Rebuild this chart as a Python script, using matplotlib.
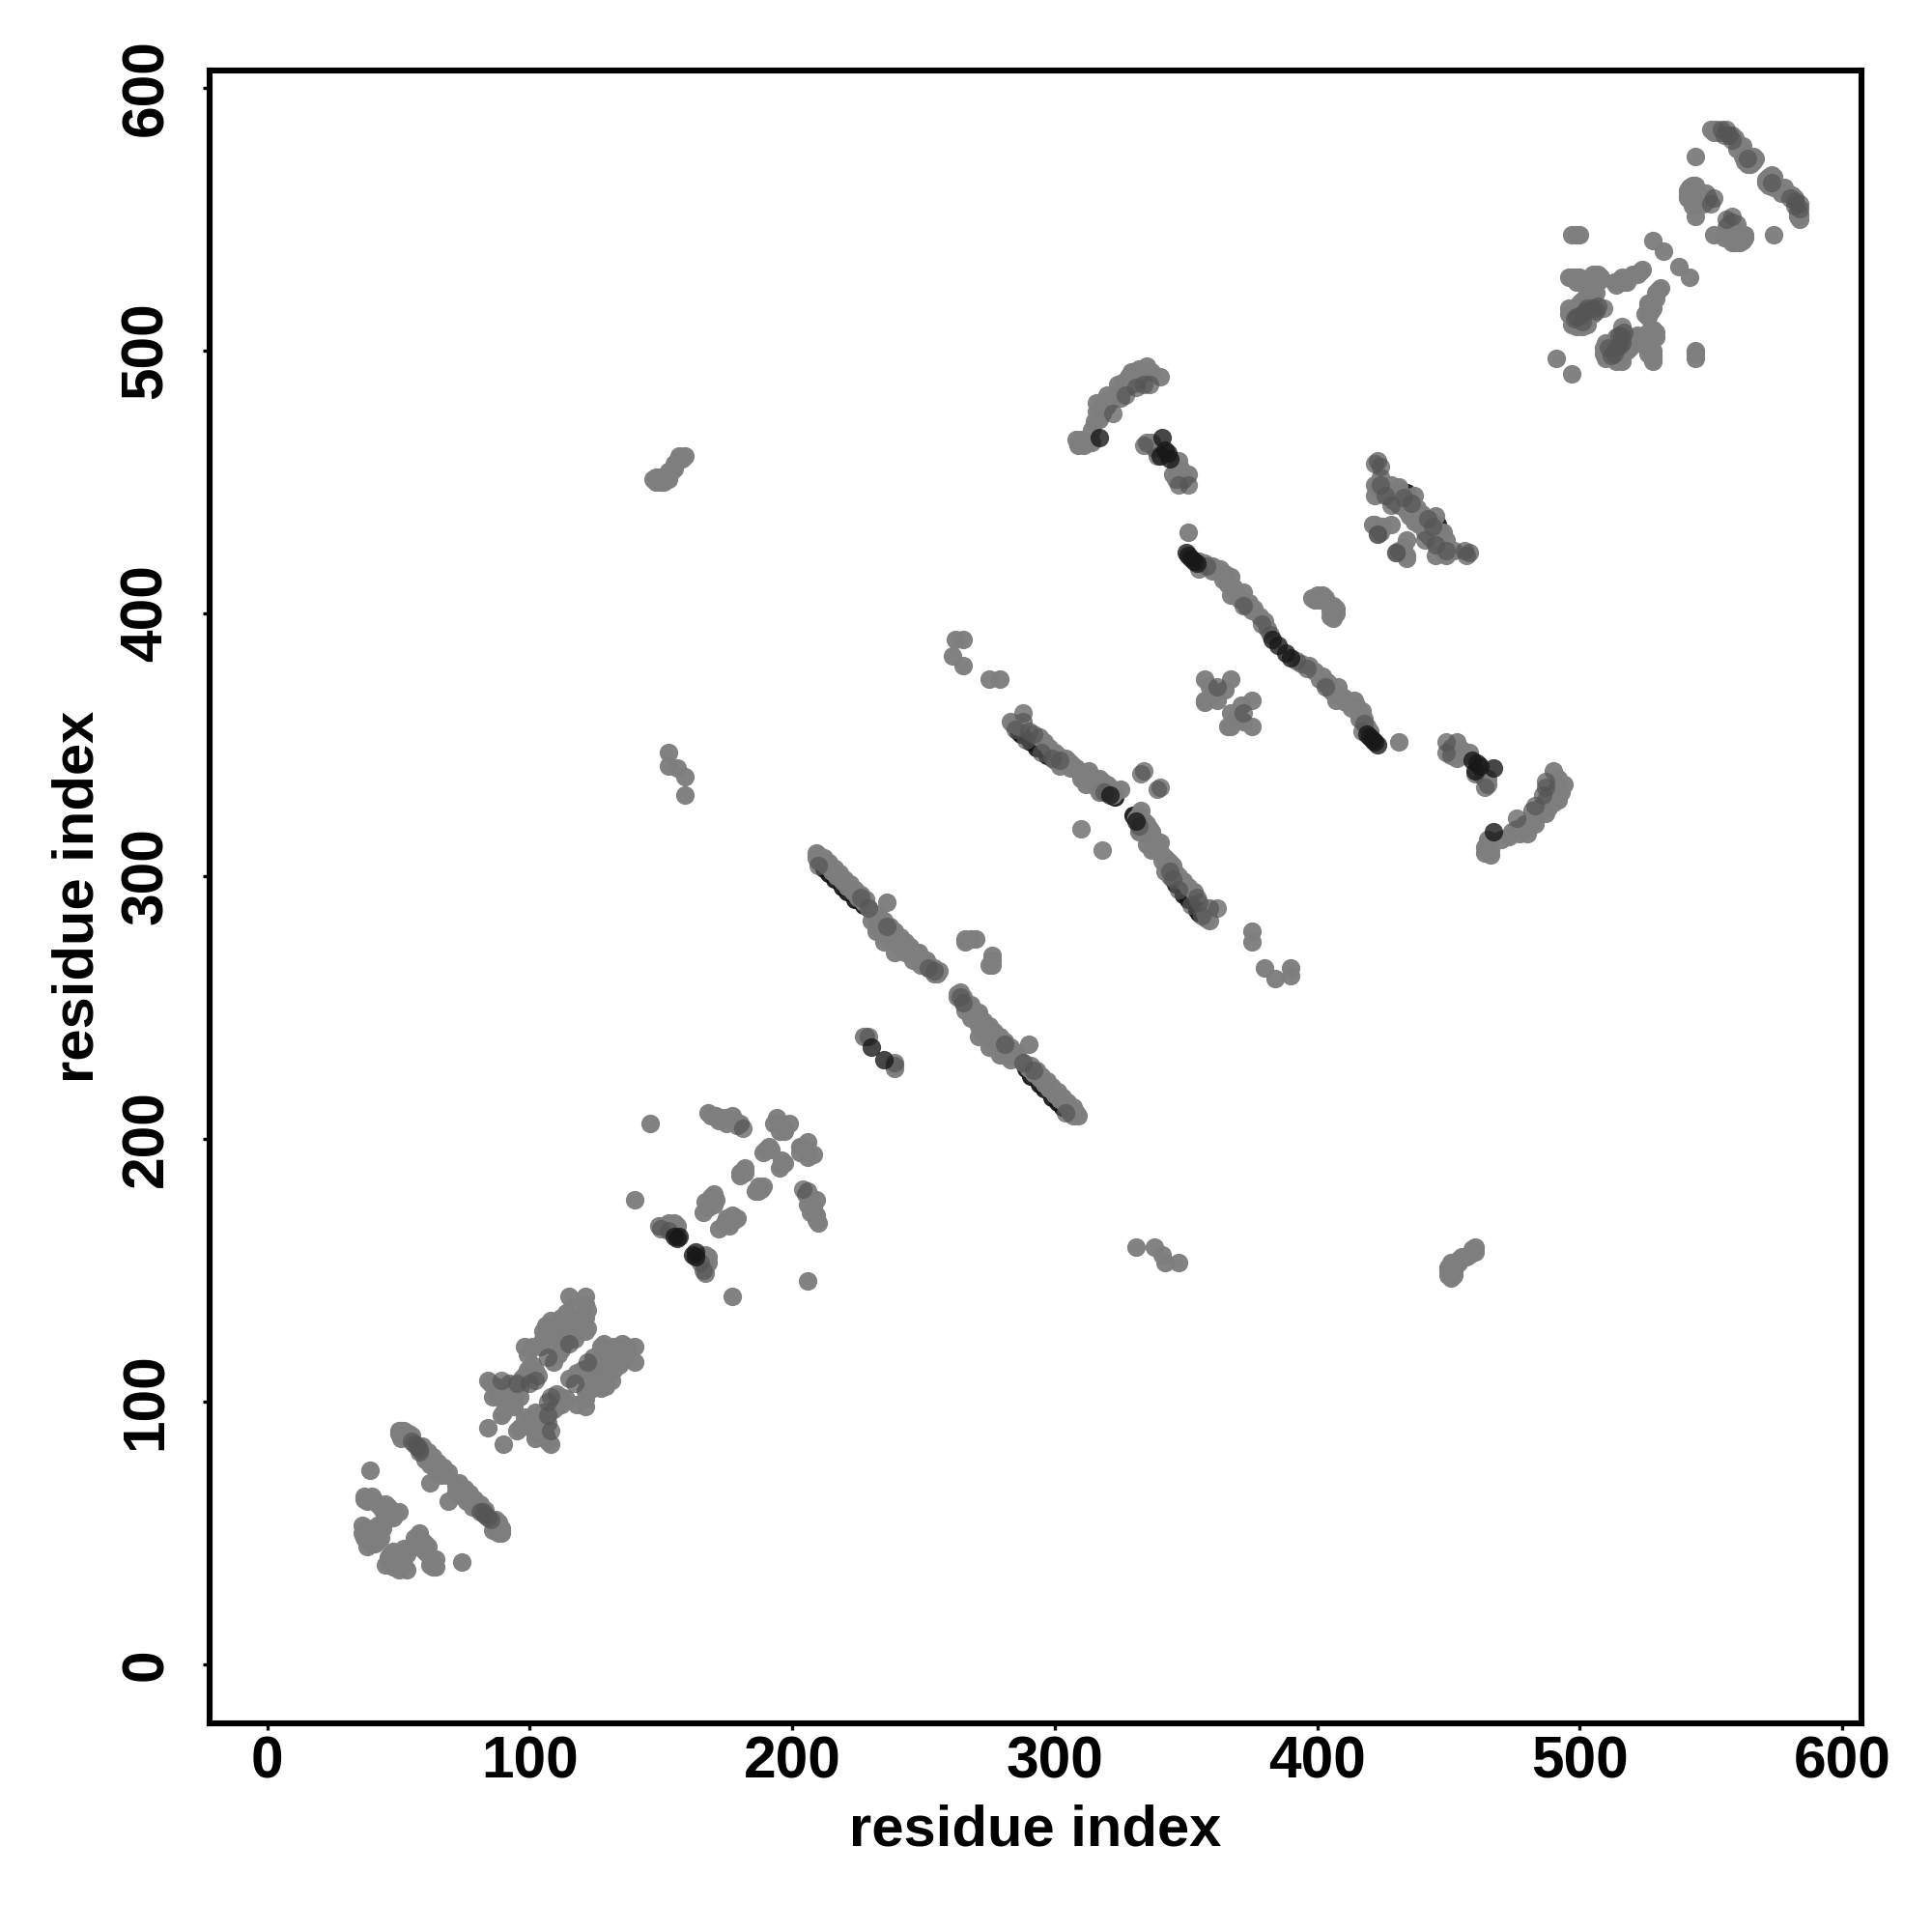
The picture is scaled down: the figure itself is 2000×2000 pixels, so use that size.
import matplotlib
matplotlib.use('Agg')
import matplotlib.pyplot as plt

# contact pairs (i, j) with i < j, the map is symmetric so each is drawn twice
under_pairs = [
    (212,303),(214,301),(216,299),(219,296),(221,294),(224,291),(227,289),(286,355),(287,354),(291,351),(293,349),
    (297,346),(317,333),(323,330),(431,447),(434,446),
]
dark_pairs = [
    (156,162),(157,163),(155,163),(230,235),(321,331),
    (341,467),(342,462),(343,461),(344,459),(340,460),(350,423),(351,422),(352,421),(353,420),(354,419),
    (383,390),(385,388),(317,467),
]
mid_pairs = [
    (55,85),(56,84),(58,82),(89,108),(95,107),(100,107),
    (115,122),(102,108),(107,117),(229,239),(181,204),(150,166),(153,165),(210,304),(226,292),(229,288),
    (236,281),(252,265),(254,264),(288,362),(289,352),(292,354),(295,347),(299,345),(302,344),
    (310,318),(319,332),(333,339),(334,340),(334,464),(334,487),(339,460),(347,449),(351,449),(355,417),(358,418),
    (372,403),(379,396),(382,392),(362,372),(331,486),(327,483),(336,487),(322,476),(422,457),(424,456),
    (423,430),(430,423),(436,442),(433,444),(428,441),(424,449),(426,445),(507,517),(509,516),(498,512),(501,514),
    (502,515),(503,516),(554,584),(556,584),(555,582),(557,582),(558,580),(551,558),(550,556),(564,573),
    (57,83),(58,81),(285,356),(290,355),(505,516),(506,515),(499,513),(501,511),
]
light_pairs = [
    (39,74),(37,64),(38,62),(40,64),(41,62),(43,60),(45,61),(47,59),(50,58),(48,56),(36,53),(36,50),(38,52),
    (39,49),(41,50),(42,47),(38,45),(40,46),(44,52),(45,55),(50,89),(52,89),(54,88),(51,87),(51,86),(57,83),
    (59,81),(61,79),(63,77),(66,75),(67,73),(69,73),(62,69),(84,90),
    (50,88),(51,89),(53,88),(55,87),(59,83),(61,81),(63,79),(65,77),(67,75),(60,78),(62,76),(64,74),(66,72),(68,72),(65,73),
    (37,63),(39,63),(42,61),(44,59),(46,60),(48,58),(37,51),(38,50),(40,48),(37,48),(40,51),(43,48),(41,46),(44,54),(42,53),(46,56),(39,47),
    (84,108),(86,102),(89,95),(92,103),(98,110),(101,114),(103,110),(96,102),(93,99),(91,100),(101,121),(98,121),
    (109,115),(109,121),(107,127),(108,131),(115,140),(121,140),(122,135),(121,132),(121,127),(114,134),(115,127),
    (110,125),(112,130),(117,124),(118,129),(113,122),
    (85,107),(87,106),(90,105),(88,102),(91,98),(90,96),(94,101),(96,105),(92,107),(94,98),(97,109),(99,112),(102,112),(99,118),
    (104,121),(105,124),(106,129),(108,126),(110,128),(112,132),(113,127),(114,130),(116,136),(118,132),(121,137),(120,130),
    (122,128),(117,127),(111,118),(112,120),(105,127),
    (146,206),(140,177),(168,210),(170,209),(171,209),(174,208),(177,209),(180,206),(194,208),(196,206),(199,206),
    (195,203),(197,204),(190,196),(192,196),(181,188),(180,186),(182,187),(169,178),(171,177),(167,176),(166,172),
    (149,167),(153,168),(156,167),(152,167),
    (169,209),(172,207),(175,206),(178,207),(179,205),(193,206),(195,205),(197,203),(189,195),(191,197),(180,187),(182,189),
    (170,175),(168,174),(170,179),(151,167),(154,166),(155,168),
    (209,309),(210,308),(212,307),(214,305),(216,303),(218,301),(220,299),(222,297),(224,295),(226,293),(228,291),
    (236,290),(232,279),(235,275),(239,271),(233,285),(235,283),(237,281),(239,279),(241,277),(243,275),(245,273),
    (247,271),(249,269),(251,267),(253,265),(255,263),(227,239),(228,239),
    (211,306),(213,304),(215,302),(217,300),(219,298),(221,296),(223,294),(225,292),(227,290),(229,288),(231,286),(233,284),
    (209,307),(210,306),(234,283),(236,281),(238,279),(240,277),(242,275),(244,273),(246,271),(248,269),(250,267),(252,265),(254,263),
    (230,283),(232,281),(234,278),(237,276),(241,273),(243,271),(246,268),(249,266),(248,271),(251,268),(254,265),(256,264),
    (266,276),(268,276),(270,276),(266,275),(262,390),(265,390),(261,384),(265,380),(275,375),(279,375),
    (283,359),(285,358),(301,346),(303,344),(305,344),(307,342),(310,339),(314,338),(318,336),(320,335),(325,333),(322,331),
    (316,334),(308,341),(306,343),
    (284,358),(286,357),(288,359),(294,353),(298,349),(300,347),(296,351),(304,345),(300,344),(302,342),(306,341),(309,340),
    (312,339),(315,336),(317,337),(319,334),(321,334),(323,332),(310,337),(312,335),(313,340),(317,332),
    (308,466),(310,466),(312,465),(314,465),(315,473),(318,478),(316,480),(320,483),(321,481),(324,484),(326,485),
    (328,488),(330,490),(332,493),(329,492),(335,494),(340,490),(337,465),(347,458),(351,453),(345,453),
    (309,464),(311,464),(314,470),(316,477),(317,474),(319,481),(322,482),(324,487),(326,488),(328,490),(330,492),(333,491),
    (331,488),(329,487),(327,486),(325,482),(318,476),(320,479),(337,492),(335,465),(338,463),(346,456),(348,455),(349,451),(346,451),
    (147,451),(148,452),(150,450),(152,451),(153,454),(155,455),(157,459),(159,460),(156,458),(153,451),(148,450),
    (149,451),(151,450),(154,454),(155,457),(157,460),(158,459),(150,452),
    (153,347),(153,342),(156,341),(159,338),(159,331),(351,431),
    (357,375),(367,375),(357,366),(359,372),(365,371),(362,367),(360,369),(357,367),
    (398,406),(400,407),(402,407),(403,406),(399,405),(401,405),
    (359,418),(362,416),(365,415),(367,414),(368,410),(367,407),(370,406),(372,408),(375,401),(374,404),
    (355,420),(357,419),(360,416),(363,417),(364,413),(366,411),(369,408),(371,405),(373,403),(376,402),(378,399),
    (380,397),(381,394),(360,418),
    (422,449),(422,445),(428,449),(431,448),(437,445),(434,439),(431,441),(421,434),(428,434),(434,441),(438,440),
    (423,448),(424,452),(423,458),(426,447),(427,445),(429,446),(432,445),(435,443),(431,443),(433,441),(435,437),(437,439),
    (429,443),(422,434),(424,431),(425,433),
    (497,544),(500,544),(497,528),(499,526),(500,528),(503,527),(507,529),(505,525),(503,523),(504,518),(499,516),
    (497,513),(499,510),(503,510),(496,514),(500,518),(515,527),(517,526),(519,528),(524,531),(522,529),(528,542),
    (532,538),(491,497),(499,544),(496,516),(496,528),(499,528),(507,528),(504,523),(499,509),
    (501,527),(502,525),(504,526),(506,527),(505,522),(504,520),(501,519),(497,515),(498,510),(501,509),
    (502,511),(500,512),(503,513),(505,514),(513,526),(514,525),(516,528),(520,529),(518,526),(523,530),(497,510),
    (508,528),(505,529),(498,528),(505,528),(507,526),(504,524),(506,522),(503,521),(498,515),
    (550,584),(552,584),(559,581),(560,579),(562,578),(563,575),(565,573),(567,573),(563,572),(565,571),
    (551,583),(553,583),(558,582),(560,577),(564,574),(566,572),(564,571),(562,574),(566,574),
    (543,563),(544,561),(542,560),(541,558),(543,557),(545,560),(547,558),(549,558),(544,551),(544,574),(541,561),(543,555),
    (541,559),(543,559),(542,562),(544,563),(546,559),(548,557),(545,556),(544,558),(547,556),(548,560),
]
tick_values = [0, 100, 200, 300, 400, 500, 600]

plt.rcParams['font.family'] = ['Liberation Sans', 'DejaVu Sans']
plt.rcParams['font.weight'] = 'bold'

fig = plt.figure(figsize=(10, 10), dpi=200)
ax = fig.add_axes([217/2000, 1-1784/2000, (1927-217)/2000, (1784-73)/2000])


def drawPairs(pairs, colour, opacity, order):
    xs = [p[0] for p in pairs] + [p[1] for p in pairs]
    ys = [p[1] for p in pairs] + [p[0] for p in pairs]
    ax.scatter(xs, ys, s=48, c=colour, linewidths=0, alpha=opacity, zorder=order)


drawPairs(under_pairs, '#141414', 0.93, 2)
drawPairs(light_pairs, '#7e7e7e', 0.97, 3)
drawPairs(mid_pairs, '#555555', 0.7, 4)
drawPairs(dark_pairs, '#181818', 0.8, 5)

ax.set_xlim(-22, 607.4)
ax.set_ylim(-22.4, 606.6)
ax.set_xticks(tick_values)
ax.set_yticks(tick_values)
ax.tick_params(axis='x', length=2.4, width=1.2, pad=2, labelsize=21.8)
ax.tick_params(axis='y', length=2.4, width=1.2, pad=10.6, labelsize=21.8)
for lab in ax.get_yticklabels():
    lab.set_rotation(90)
    lab.set_va('center')
for side in ax.spines.values():
    side.set_linewidth(2.2)

ax.set_xlabel('residue index', fontsize=21.5, fontweight='bold', labelpad=5)
ax.set_ylabel('residue index', fontsize=21.5, fontweight='bold', labelpad=5.6)

fig.savefig('out.png', dpi=200)
